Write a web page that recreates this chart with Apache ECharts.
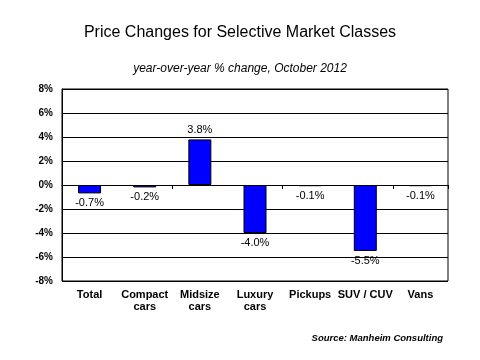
<!DOCTYPE html>
<html><head><meta charset="utf-8">
<script src="https://cdn.jsdelivr.net/npm/echarts@6/dist/echarts.min.js"></script>
<style>html,body{margin:0;padding:0;background:#fff}#c{width:480px;height:360px}</style>
</head><body><div id="c"></div>
<script>
var categories = ['Total', 'Compact\ncars', 'Midsize\ncars', 'Luxury\ncars', 'Pickups', 'SUV / CUV', 'Vans'];
var values = [-0.7, -0.2, 3.8, -4.0, -0.1, -5.5, -0.1];
var yMin = -8, yMax = 8, yStep = 2;
var titleText = 'Price Changes for Selective Market Classes';
var subtitleText = 'year-over-year % change, October 2012';
var sourceText = 'Source: Manheim Consulting';

var F = 'Liberation Sans, Arial, sans-serif';
var chart = echarts.init(document.getElementById('c'));
chart.setOption({
  animation: false,
  backgroundColor: '#fff',
  title: [
    {text: titleText, left: 'center', top: 25, padding: 0, textStyle: {fontFamily: F, fontSize: 16, fontWeight: 'normal', color: '#000'}},
    {text: subtitleText, left: 'center', top: 63, padding: 0, textStyle: {fontFamily: F, fontSize: 12, fontStyle: 'italic', fontWeight: 'normal', color: '#000'}},
    {text: sourceText, right: 37, top: 333, padding: 0, textStyle: {fontFamily: F, fontSize: 9.5, fontStyle: 'italic', fontWeight: 'bold', color: '#000'}}
  ],
  grid: {left: 62, top: 89, width: 386, height: 192, show: true, borderColor: '#000', borderWidth: 1, containLabel: false},
  xAxis: [
    {type: 'category', data: categories, position: 'bottom',
     axisLine: {show: false, onZero: false}, axisTick: {show: false},
     axisLabel: {fontFamily: F, fontSize: 11, fontWeight: 'bold', color: '#000', margin: 8, interval: 0, lineHeight: 12}},
    {type: 'category', data: categories, position: 'bottom',
     axisLine: {show: true, onZero: true, lineStyle: {color: '#000', width: 1}},
     axisTick: {show: true, length: 4, lineStyle: {color: '#000'}},
     axisLabel: {show: false}}
  ],
  yAxis: {type: 'value', min: yMin, max: yMax, interval: yStep,
    axisLine: {show: true, lineStyle: {color: '#000'}}, axisTick: {show: false},
    splitLine: {show: true, lineStyle: {color: '#000', width: 1}},
    axisLabel: {fontFamily: F, fontSize: 10, fontWeight: 'bold', color: '#000', margin: 9, formatter: '{value}%'}},
  series: [{
    type: 'bar', xAxisIndex: 0, barWidth: 23,
    data: values.map(function (v) {
      return {value: v, label: {position: v < 0 ? 'bottom' : 'top'}};
    }),
    itemStyle: {color: '#0000FF', borderColor: '#000', borderWidth: 1},
    label: {show: true, fontFamily: F, fontSize: 11, color: '#000', distance: 4,
      formatter: function (p) { return p.value.toFixed(1) + '%'; }}
  }]
});
</script></body></html>
